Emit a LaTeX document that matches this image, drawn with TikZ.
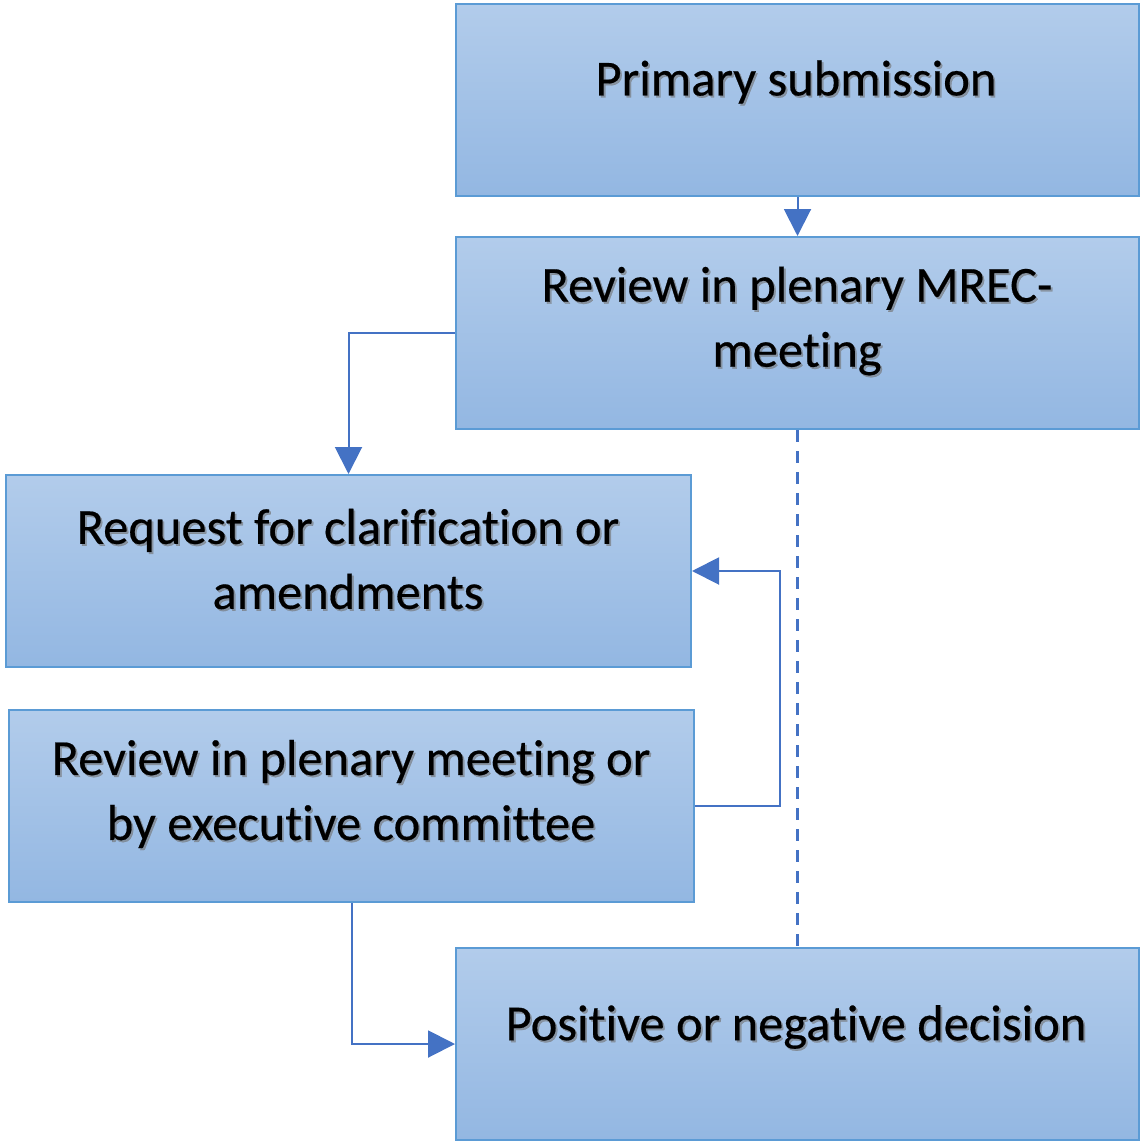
\documentclass[tikz,border=0pt]{standalone}
\usepackage{fontspec}
\setmainfont[Ligatures={NoCommon},FakeBold=0.4]{Carlito}
\usetikzlibrary{arrows.meta}
\definecolor{boxtop}{HTML}{B2CCEB}
\definecolor{boxbot}{HTML}{93B7E2}
\definecolor{boxline}{HTML}{5B9BD5}
\definecolor{arrowc}{HTML}{4472C4}
\newcommand{\shtext}[3]{%
  \node[txtshadow] at ([xshift=1.8pt,yshift=-2pt]#2) {#3};
  \node[txt] (#1) at (#2) {#3};}
\begin{document}
\begin{tikzpicture}[x=1pt,y=-1pt,
  box/.style={draw=boxline,line width=2pt,top color=boxtop,bottom color=boxbot,
    minimum width=683pt,minimum height=192pt,inner sep=0pt,anchor=north west},
  txt/.style={align=center,text=black,font=\fontsize{50.5}{65}\selectfont,inner sep=0pt},
  txtshadow/.style={txt,text=black!55,opacity=0.6},
  conn/.style={draw=arrowc,line width=2pt,-{Triangle[length=27pt,width=27pt]}},
  dashconn/.style={draw=arrowc,line width=2.5pt,dash pattern=on 12pt off 9pt}]
\useasboundingbox (0,0) rectangle (1145,1145);
\node[box] (prim) at (455,3) {};
\node[box] (mrec) at (455,236) {};
\node[box,minimum width=685pt] (req) at (5,474) {};
\node[box,minimum width=685pt] (rev) at (8,709) {};
\node[box] (dec) at (455,947) {};
\shtext{tprim}{796,82}{Primary submission}
\shtext{tmrec}{797,321}{Review in plenary MREC-\\meeting}
\shtext{treq}{348,559}{Request for clarification or\\amendments}
\shtext{trev}{351,794}{Review in plenary meeting or\\by executive committee}
\shtext{tdec}{796,1027}{Positive or negative decision}
\draw[conn] (prim.south) -- (mrec.north);
\draw[conn] (mrec.west) -| (req.north);
\draw[dashconn] (mrec.south) -- (dec.north);
\draw[conn] (rev.east) -- ++(85,0) |- (req.east);
\draw[conn] (rev.south) |- (dec.west);
\end{tikzpicture}
\end{document}
